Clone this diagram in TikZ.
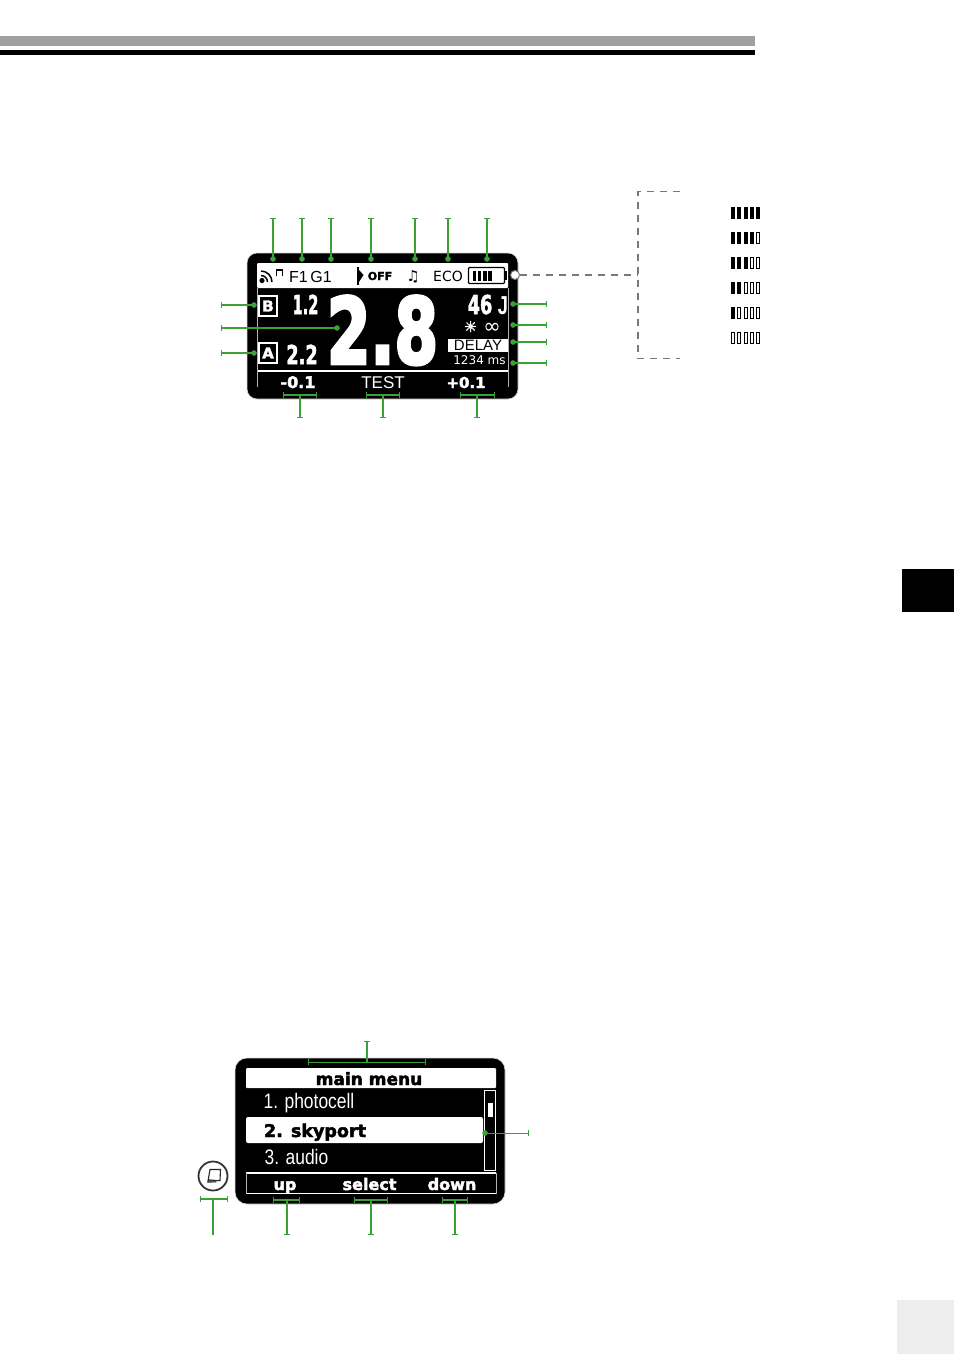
\documentclass[tikz,border=0pt]{standalone}
\usepackage{fontspec}
\setmainfont{Liberation Sans}
\newfontfamily\dejavu{DejaVu Sans}
\newfontfamily\dejafat[FakeBold=2.5]{DejaVu Sans Bold}
\newfontfamily\dejablock[FakeBold=4]{DejaVu Sans Bold}
\usepackage{xcolor}
\usetikzlibrary{arrows.meta}
\definecolor{leadergreen}{RGB}{57,161,53}
\definecolor{dashgray}{RGB}{120,120,120}
\definecolor{bandgray}{RGB}{160,160,158}
\tikzset{
  leader/.style={draw=leadergreen, line width=1.4pt},
  bardot/.style={leader, {Bar[width=6pt,length=0pt]}-{Circle[length=5.5pt,width=5.5pt,sep=-2.7pt]}},
  barbar/.style={leader, {Bar[width=6pt,length=0pt]}-{Bar[width=6pt,length=0pt]}},
  barplain/.style={leader, {Bar[width=6pt,length=0pt]}-},
  wtxt/.style={text=white, inner sep=0pt, anchor=base},
  ktxt/.style={text=black, inner sep=0pt, anchor=base},
  fat/.style={font=\dejafat\fontsize{#1}{#1}\selectfont},
  block/.style={font=\dejablock\fontsize{#1}{#1}\selectfont},
  thin/.style={font=\fontsize{#1}{#1}\selectfont},
  plainface/.style={font=\dejavu\fontsize{#1}{#1}\selectfont},
  squeeze/.style={xscale=#1, transform shape},
  cell/.style={draw=black, line width=.8pt},
  lcd/.style={fill=black, draw=black!15, line width=.6pt},
  zonebox/.style={draw=white, line width=1.8pt, fill=black, minimum width=18.5pt, minimum height=20.5pt, inner sep=0pt, text=white, fat=15},
}
\begin{document}
\begin{tikzpicture}[x=1pt, y=-1pt]
  \useasboundingbox (0,0) rectangle (954,1354);
  % page furniture
  \fill[bandgray] (0,36) rectangle (755,46);
  \fill[black] (0,50) rectangle (755,55);
  \fill[black] (902,569) rectangle (954,612);
  \fill[black!7] (897,1300) rectangle (954,1354);

  % flash display
  \draw[lcd, rounded corners=10pt] (247,253) rectangle (518,399);
  \fill[white, rounded corners=1pt] (257,263) rectangle (508,288);
  \draw[white, line width=1.5pt] (257,371) -- (508,371);
  \draw[white!70!black, line width=.5pt] (257,288) -- (257,387);
  \draw[white!70!black, line width=.5pt] (508,288) -- (508,387);

  % top row
  \fill[black] (262,280.5) circle (2.6pt);
  \draw[black, line width=1.5pt] (261,275.5) arc (-90:0:6.5);
  \draw[black, line width=1.5pt] (261,271) arc (-90:0:11);
  \draw[black, line width=1.1pt] (276.5,276) -- (276.5,270) -- (282.5,270) -- (282.5,276);
  \node[ktxt, thin=16] (chan) at (310.5,282) {F1\,G1};
  \draw[black, line width=1.4pt] (358,267) -- (358,285);
  \fill[black] (359,270) -- (363.5,275) -- (359,282) -- cycle;
  \node[ktxt, fat=11] (off) at (380,280) {OFF};
  \node[ktxt, plainface=15] (audio) at (413,281) {♫};
  \node[ktxt, plainface=14] (eco) at (448,281) {ECO};
  \draw[black, line width=1.4pt, rounded corners=1pt] (468.5,267.5) rectangle (504.5,283.5);
  \fill[black] (505,271) rectangle (507,280);
  \foreach \n in {0,...,3}
    \fill[black] (472.5+5.3*\n,271) rectangle ++(3.6,10);

  % left column
  \node[zonebox] (zoneB) at (268,306) {B};
  \node[zonebox] (zoneA) at (268,353) {A};
  \node[wtxt, fat=26, squeeze=.56] (valB) at (305.5,314) {1.2};
  \node[wtxt, fat=26, squeeze=.68] (valA) at (302,364) {2.2};
  \node[wtxt, block=91, squeeze=.69] (bigval) at (382.5,363.5) {2.8};

  % right column
  \node[wtxt, fat=26, squeeze=.68] (power) at (480,314) {46};
  \node[wtxt, font=\bfseries\fontsize{26}{26}\selectfont, squeeze=.7] (joule) at (503,314) {J};
  \node[wtxt, fat=15] (sun) at (470.5,332) {☀};
  \node[wtxt, plainface=21] (hold) at (492,333) {∞};
  \node[fill=white, minimum width=60pt, minimum height=13pt, inner sep=0pt, text=black, thin=15] (delay) at (478,345.5) {DELAY};
  \node[wtxt, plainface=12] (delayms) at (479.5,364) {1234 ms};

  % soft keys
  \node[wtxt, fat=16] (keyA) at (298,388) {-0.1};
  \node[wtxt, thin=17] (keyB) at (383,388) {TEST};
  \node[wtxt, fat=15] (keyC) at (466,388) {+0.1};

  % leaders above
  \foreach \name/\x in {t1/273,t2/302,t3/331,t4/371,t5/415,t6/448,t7/487} {
    \coordinate (\name a) at (\x,218);
    \coordinate (\name b) at (\x,259);
    \draw[bardot] (\name a) -- (\name b);
  }
  % leaders left
  \foreach \name/\y/\x in {l1/305/254,l2/328/337,l3/353/254} {
    \coordinate (\name a) at (221,\y);
    \coordinate (\name b) at (\x,\y);
    \draw[bardot] (\name a) -- (\name b);
  }
  % leaders right
  \foreach \name/\y in {r1/304,r2/325,r3/342,r4/363} {
    \coordinate (\name a) at (547,\y);
    \coordinate (\name b) at (513,\y);
    \draw[bardot] (\name a) -- (\name b);
  }
  % key brackets
  \foreach \name/\xl/\xm/\xr in {k1/283/300/317,k2/366/383/400,k3/460/477/495} {
    \coordinate (\name l) at (\xl,395);
    \coordinate (\name r) at (\xr,395);
    \coordinate (\name m) at (\xm,395);
    \coordinate (\name e) at (\xm,418);
    \draw[barbar] (\name l) -- (\name r);
    \draw[barplain] (\name e) -- (\name m);
  }

  % battery states
  \node[circle, draw=dashgray, fill=white, line width=1pt, minimum size=9pt, inner sep=0pt] (batt) at (515,275) {};
  \coordinate (dashA) at (638,275);
  \coordinate (dashB) at (680,191.5);
  \coordinate (dashC) at (638,191.5);
  \coordinate (dashD) at (638,358.5);
  \coordinate (dashE) at (680,358.5);
  \draw[dashgray, line width=1.5pt, dash pattern=on 7pt off 6pt] (batt) -- (dashA);
  \draw[dashgray, line width=1.5pt, dash pattern=on 7pt off 6pt] (dashB) -- (dashC) -- (dashD) -- (dashE);
  \foreach \row/\y in {5/213,4/238,3/263,2/288,1/313,0/338} {
    \foreach \n in {1,...,5} {
      \ifnum\n>\row
        \draw[cell] (731.4+6.25*\n-6.25,\y-5.5) rectangle ++(3.2,11);
      \else
        \fill[black] (731+6.25*\n-6.25,\y-6) rectangle ++(4.2,12);
      \fi
    }
  }

  % menu display
  \draw[lcd, rounded corners=12pt] (235,1058) rectangle (505,1204);
  \fill[white, rounded corners=1pt] (246,1068) rectangle (496,1088);
  \node[ktxt, fat=17] (menutitle) at (369,1085) {main menu};
  \node[wtxt, thin=21, squeeze=.83] (item1) at (309,1108) {1. photocell};
  \node[fill=white, rounded corners=2pt, minimum width=237pt, minimum height=26pt, inner sep=0pt] (selbar) at (364.5,1130) {};
  \node[ktxt, fat=17.5] (item2) at (315,1137) {2. skyport};
  \node[wtxt, thin=21, squeeze=.83] (item3) at (296.5,1164) {3. audio};
  \draw[white, line width=1.2pt] (484.6,1090.6) rectangle (495.4,1170.4);
  \fill[white] (488,1103) rectangle (493,1117);
  \draw[white, line width=1.4pt] (246,1173) -- (496,1173);
  \draw[white, line width=1.4pt] (246,1193.5) -- (496,1193.5);
  \draw[white!70!black, line width=.5pt] (246,1173) -- (246,1193.5);
  \draw[white!70!black, line width=.5pt] (496,1173) -- (496,1193.5);
  \node[wtxt, fat=16] (keyUp) at (285,1190) {up};
  \node[wtxt, fat=16] (keySel) at (369.5,1190) {select};
  \node[wtxt, fat=16] (keyDown) at (452,1190) {down};

  % menu button
  \node[circle, draw=black!80, fill=white, line width=1.8pt, minimum size=29pt, inner sep=0pt] (menubtn) at (213,1176) {};
  \fill[black!55] (208.5,1179) -- (207,1183) -- (216,1182.5) -- (217,1180) -- cycle;
  \draw[black!85, line width=1.1pt] (210,1169.5) -- (220.5,1169.5) -- (220,1180.5) -- (208,1181) -- cycle;

  % leaders of the menu display
  \coordinate (mTopL) at (308,1062);
  \coordinate (mTopR) at (426,1062);
  \coordinate (mTopM) at (367,1062);
  \coordinate (mTopE) at (367,1041);
  \draw[barbar, line width=.8pt] (mTopL) -- (mTopR);
  \draw[barplain] (mTopE) -- (mTopM);
  \coordinate (mRightA) at (529,1133);
  \coordinate (mRightB) at (485,1133);
  \draw[bardot, line width=.9pt] (mRightA) -- (mRightB);
  \foreach \name/\xl/\xm/\xr in {b1/273/287/300,b2/354/371/388,b3/442/455/468} {
    \coordinate (\name l) at (\xl,1200);
    \coordinate (\name r) at (\xr,1200);
    \coordinate (\name m) at (\xm,1200);
    \coordinate (\name e) at (\xm,1235);
    \draw[barbar] (\name l) -- (\name r);
    \draw[barplain] (\name e) -- (\name m);
  }
  \coordinate (btnL) at (200,1199);
  \coordinate (btnR) at (228,1199);
  \coordinate (btnM) at (213,1199);
  \coordinate (btnE) at (213,1235);
  \draw[barbar] (btnL) -- (btnR);
  \draw[leader] (btnE) -- (btnM);
\end{tikzpicture}
\end{document}
